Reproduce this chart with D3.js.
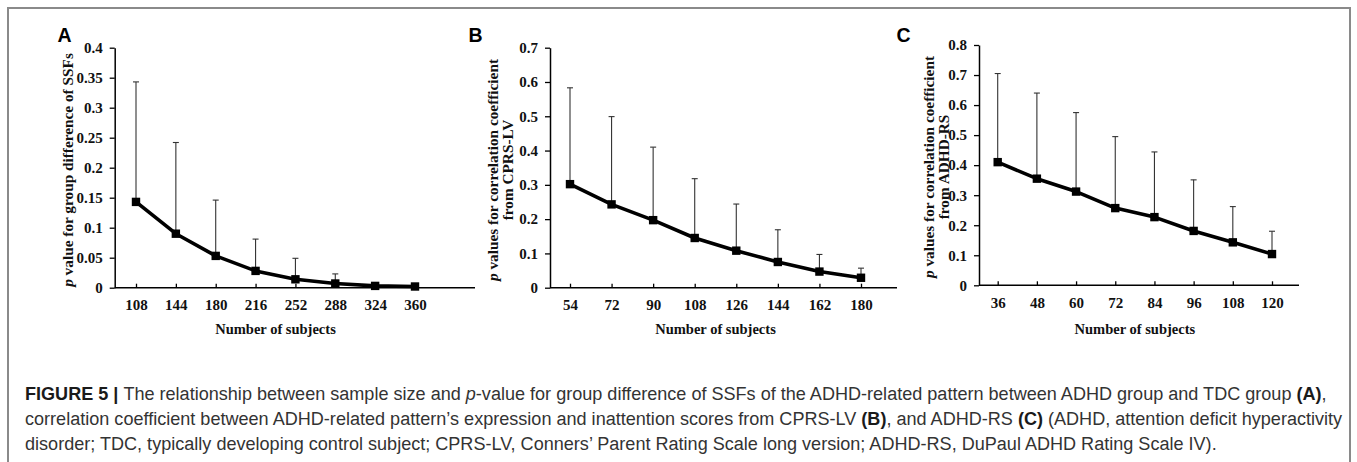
<!DOCTYPE html>
<html>
<head>
<meta charset="utf-8">
<script src="https://cdn.jsdelivr.net/npm/d3@7"></script>
<style>
  html, body { margin: 0; padding: 0; background: #fff; }
  svg { display: block; }
</style>
</head>
<body>
<script>
// ---------- DATA ----------
const catsA = [108, 144, 180, 216, 252, 288, 324, 360];
const meanA = [0.143, 0.090, 0.053, 0.028, 0.014, 0.007, 0.003, 0.002];
const upperA = [0.343, 0.242, 0.146, 0.081, 0.049, 0.023, 0.004, 0.002];
const yTicksA = [0, 0.05, 0.1, 0.15, 0.2, 0.25, 0.3, 0.35, 0.4];

const catsB = [54, 72, 90, 108, 126, 144, 162, 180];
const meanB = [0.302, 0.243, 0.197, 0.145, 0.108, 0.075, 0.047, 0.029];
const upperB = [0.583, 0.499, 0.410, 0.318, 0.244, 0.169, 0.097, 0.057];
const yTicksB = [0, 0.1, 0.2, 0.3, 0.4, 0.5, 0.6, 0.7];

const catsC = [36, 48, 60, 72, 84, 96, 108, 120];
const meanC = [0.410, 0.355, 0.312, 0.257, 0.227, 0.181, 0.143, 0.104];
const upperC = [0.705, 0.640, 0.575, 0.495, 0.444, 0.351, 0.262, 0.180];
const yTicksC = [0, 0.1, 0.2, 0.3, 0.4, 0.5, 0.6, 0.7, 0.8];

const xTitle = "Number of subjects";
const yTitleA = ["p| value for group difference of SSFs"];
const yTitleB = ["p| values for correlation coefficient", "from CPRS-LV"];
const yTitleC = ["p| values for correlation coefficient", "from ADHD-RS"];

// ---------- LAYOUT ----------
const W = 1357, H = 462;
const serif = "'Liberation Serif', 'Times New Roman', Times, serif";
const sans = "'Liberation Sans', Arial, Helvetica, sans-serif";

const svg = d3.select("body").append("svg").attr("width", W).attr("height", H);

svg.append("rect")
  .attr("x", 8).attr("y", 8).attr("width", 1342).attr("height", 480)
  .attr("fill", "none").attr("stroke", "#8a8a8a").attr("stroke-width", 2);

function panel(cfg, cats, means, uppers, yMax, yTicks, titleLines, letter) {
  const x = d3.scalePoint().domain(cats).range([cfg.cx0, cfg.cx1]);
  const y = d3.scaleLinear().domain([0, yMax]).range([cfg.y0, cfg.y1]);
  const g = svg.append("g");

  // y axis
  const yAx = g.append("g")
    .attr("transform", `translate(${cfg.ax},0)`)
    .call(d3.axisLeft(y).tickValues(yTicks).tickSize(5).tickSizeOuter(0).tickPadding(7)
      .tickFormat(d => String(d)));
  yAx.select(".domain").attr("stroke", "#000").attr("stroke-width", 1.5);
  yAx.selectAll(".tick line").attr("stroke", "#000").attr("stroke-width", 1.3);
  yAx.selectAll(".tick text")
    .attr("font-family", serif).attr("font-weight", "bold").attr("font-size", 15).attr("fill", "#111");

  // x axis
  const xAx = g.append("g")
    .attr("transform", `translate(0,${cfg.y0})`)
    .call(d3.axisBottom(x).tickSize(-4).tickSizeOuter(0).tickPadding(12));
  xAx.select(".domain").remove();
  xAx.selectAll(".tick line").attr("stroke", "#000").attr("stroke-width", 1.3);
  xAx.selectAll(".tick text")
    .attr("font-family", serif).attr("font-weight", "bold").attr("font-size", 15).attr("fill", "#111");
  g.append("line")
    .attr("x1", cfg.ax).attr("x2", cfg.axisEnd)
    .attr("y1", cfg.y0).attr("y2", cfg.y0)
    .attr("stroke", "#000").attr("stroke-width", 1.5);

  const pts = cats.map((c, i) => ({ c, m: means[i], u: uppers[i] }));

  // error bars (upper only)
  const eb = g.append("g").attr("stroke", "#333").attr("stroke-width", 1.1);
  eb.selectAll("line.v").data(pts).join("line").attr("class", "v")
    .attr("x1", d => x(d.c)).attr("x2", d => x(d.c))
    .attr("y1", d => y(d.m)).attr("y2", d => y(d.u));
  eb.selectAll("line.cap").data(pts).join("line").attr("class", "cap")
    .attr("x1", d => x(d.c) - 3).attr("x2", d => x(d.c) + 3)
    .attr("y1", d => y(d.u)).attr("y2", d => y(d.u));

  // mean line
  g.append("path").datum(pts)
    .attr("d", d3.line().x(d => x(d.c)).y(d => y(d.m)))
    .attr("fill", "none").attr("stroke", "#000").attr("stroke-width", 3.6)
    .attr("stroke-linejoin", "round");

  // markers
  g.selectAll("rect.mk").data(pts).join("rect").attr("class", "mk")
    .attr("x", d => x(d.c) - 4.2).attr("y", d => y(d.m) - 4.2)
    .attr("width", 8.4).attr("height", 8.4).attr("fill", "#000");

  // x title
  g.append("text")
    .attr("x", (cfg.cx0 + cfg.cx1) / 2).attr("y", 334)
    .attr("text-anchor", "middle")
    .attr("font-family", serif).attr("font-weight", "bold").attr("font-size", 14.5).attr("fill", "#111")
    .text(xTitle);

  // y title
  titleLines.forEach((line, i) => {
    const t = g.append("text")
      .attr("transform", `translate(${cfg.titleX[i]},${cfg.titleY}) rotate(-90)`)
      .attr("text-anchor", "middle").attr("dominant-baseline", "central")
      .attr("font-family", serif).attr("font-weight", "bold").attr("font-size", 15.3).attr("fill", "#111");
    if (line.indexOf("|") >= 0) {
      const [it, rest] = line.split("|");
      t.append("tspan").attr("font-style", "italic").text(it);
      t.append("tspan").text(rest);
    } else {
      t.text(line);
    }
  });

  // panel letter
  g.append("text")
    .attr("x", cfg.letterX).attr("y", 42)
    .attr("font-family", sans).attr("font-weight", "bold").attr("font-size", 19.5).attr("fill", "#000")
    .text(letter);
}

panel({ ax: 114.7, cx0: 136, cx1: 415, axisEnd: 475, y0: 287.7, y1: 47.7, titleX: [67], titleY: 170, letterX: 57.5 },
  catsA, meanA, upperA, 0.4, yTicksA, yTitleA, "A");
panel({ ax: 550, cx0: 570, cx1: 861, axisEnd: 897, y0: 287.7, y1: 47.7, titleX: [492, 507], titleY: 170, letterX: 468.5 },
  catsB, meanB, upperB, 0.7, yTicksB, yTitleB, "B");
panel({ ax: 979, cx0: 997.7, cx1: 1272, axisEnd: 1299, y0: 285.3, y1: 45, titleX: [928, 943], titleY: 167, letterX: 896.5 },
  catsC, meanC, upperC, 0.8, yTicksC, yTitleC, "C");

// ---------- CAPTION ----------
const captionLines = [
  [["FIGURE 5 | ", "b"], ["The relationship between sample size and ", ""], ["p", "i"],
   ["-value for group difference of SSFs of the ADHD-related pattern between ADHD group and TDC group ", ""],
   ["(A)", "b"], [",", ""]],
  [["correlation coefficient between ADHD-related pattern\u2019s expression and inattention scores from CPRS-LV ", ""],
   ["(B)", "b"], [", and ADHD-RS ", ""], ["(C)", "b"], [" (ADHD, attention deficit hyperactivity", ""]],
  [["disorder; TDC, typically developing control subject; CPRS-LV, Conners\u2019 Parent Rating Scale long version; ADHD-RS, DuPaul ADHD Rating Scale IV).", ""]]
];
const capBaselines = [400, 425, 450];
const capX = 25;
let capFS = 16;
const capTexts = captionLines.map((segs, i) => {
  const t = svg.append("text")
    .attr("x", capX).attr("y", capBaselines[i])
    .attr("font-family", sans).attr("font-size", capFS).attr("fill", "#333");
  segs.forEach(([s, st]) => {
    const ts = t.append("tspan").text(s);
    if (st === "b") ts.attr("font-weight", "bold").attr("fill", "#1a1a1a");
    if (st === "i") ts.attr("font-style", "italic");
  });
  return t;
});
// fit caption width to the reference (line 1 ends ~1330, line 2 ~1340)
const w1 = capTexts[0].node().getComputedTextLength();
const w2 = capTexts[1].node().getComputedTextLength();
if (w1 > 0 && w2 > 0) {
  capFS = capFS * ((1305 / w1) + (1315 / w2)) / 2;
  capTexts.forEach(t => t.attr("font-size", capFS));
}
</script>
</body>
</html>
